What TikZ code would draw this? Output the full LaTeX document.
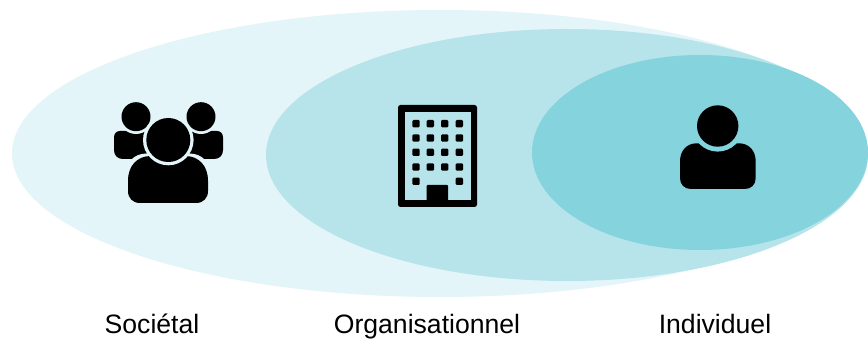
\documentclass[tikz,border=0pt]{standalone}
\usepackage{fontspec}
\setmainfont{Liberation Sans}
\definecolor{outerc}{HTML}{E3F5F8}
\definecolor{midc}{HTML}{B7E4EA}
\definecolor{innerc}{HTML}{84D3DD}
\tikzset{lab/.style={anchor=base,font=\fontsize{26.6}{30}\selectfont,text=black,inner sep=0pt},
 ico/.style={fill=black,draw=none}}
\newcommand{\bodyshape}[6]{% left right top bottom shoulder corner
 (#1,#4-#6) -- (#1,#3+#5*1.3) .. controls (#1,#3+#5*0.5) and (#1+#5*0.5,#3) .. (#1+#5*1.2,#3)
 -- (#2-#5*1.2,#3) .. controls (#2-#5*0.5,#3) and (#2,#3+#5*0.5) .. (#2,#3+#5*1.3)
 -- (#2,#4-#6) .. controls (#2,#4-#6*0.4) and (#2-#6*0.4,#4) .. (#2-#6,#4)
 -- (#1+#6,#4) .. controls (#1+#6*0.4,#4) and (#1,#4-#6*0.4) .. (#1,#4-#6) -- cycle}
\begin{document}
\begin{tikzpicture}[x=1pt,y=-1pt]
\useasboundingbox (0,0) rectangle (868,339);
\fill[outerc] (440,153.5) ellipse [x radius=428,y radius=143.5];
\fill[midc] (567,155) ellipse [x radius=301,y radius=126];
\fill[innerc] (700,152.5) ellipse [x radius=168,y radius=97.5];
% group
\fill[ico] \bodyshape{114}{165}{131}{159}{5}{9};
\fill[ico] \bodyshape{172}{223}{131}{159}{5}{9};
\fill[outerc] (136,116.7) circle (17.3);
\fill[outerc] (201,116.7) circle (17.3);
\fill[ico] (136,116.7) circle (14.5);
\fill[ico] (201,116.7) circle (14.5);
\fill[outerc] \bodyshape{125}{211}{153.5}{206}{18}{14};
\fill[ico] \bodyshape{128}{208}{156}{203}{19}{12};
\fill[outerc] (168.3,140) circle (25.3);
\fill[ico] (168.3,140) circle (22);
% building
\fill[ico,rounded corners=2.5pt] (398,105) rectangle (477,207);
\fill[midc] (405,112) rectangle (471,200);
\foreach \cx in {416,430.3,444.7,459.3}
  \foreach \cy in {123.7,138,152.3,167}
    \fill[ico,rounded corners=1.2pt] (\cx-3.7,\cy-3.7) rectangle (\cx+3.7,\cy+3.7);
\foreach \cx in {416,459.3}
  \fill[ico,rounded corners=1.2pt] (\cx-3.7,181.3-3.7) rectangle (\cx+3.7,181.3+3.7);
\fill[ico,rounded corners=1pt] (426.7,185) rectangle (448,202);
% person
\fill[ico] \bodyshape{680}{755.7}{143.3}{189}{14}{11};
\fill[innerc] (717.7,126) circle (25.6);
\fill[ico] (717.7,126) circle (20.7);
% labels
\node[lab] (societal) at (152,334) {Sociétal};
\node[lab] (organisationnel) at (427,334) {Organisationnel};
\node[lab] (individuel) at (715,334) {Individuel};
\end{tikzpicture}
\end{document}
